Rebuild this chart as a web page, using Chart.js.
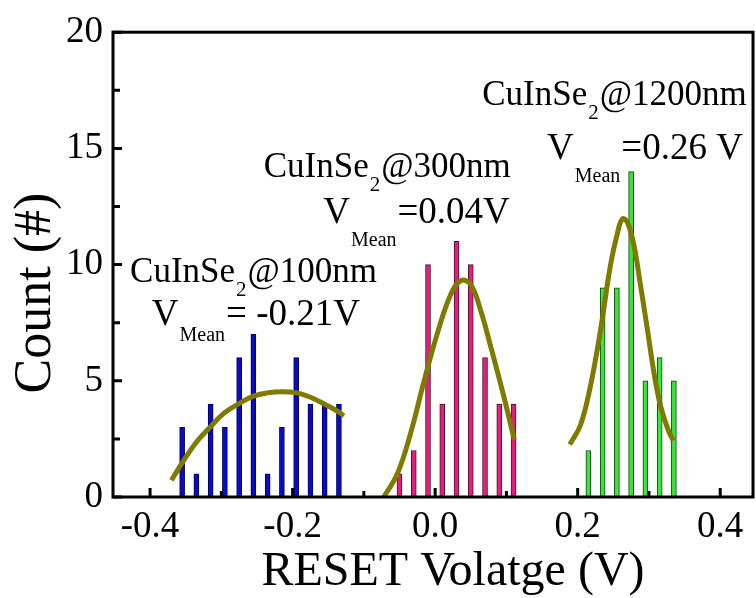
<!DOCTYPE html>
<html>
<head>
<meta charset="utf-8">
<script src="https://cdn.jsdelivr.net/npm/chart.js@4.4.0/dist/chart.umd.min.js"></script>
<style>
  html, body { margin: 0; padding: 0; background: #fff; }
  #wrap { width: 756px; height: 598px; }
</style>
</head>
<body>
<div id="wrap"><canvas id="myChart"></canvas></div>
<script>
// histogram bins (bin centre, V) and counts
const blueX = [-0.355, -0.335, -0.315, -0.295, -0.275, -0.255, -0.235, -0.215, -0.195, -0.175, -0.155, -0.135];
const blueCount = [3, 1, 4, 3, 6, 7, 1, 3, 6, 4, 4, 4];
const pinkX = [-0.05, -0.03, -0.01, 0.01, 0.03, 0.05, 0.07, 0.09, 0.11];
const pinkCount = [1, 2, 10, 4, 11, 10, 6, 4, 4];
const greenX = [0.215, 0.235, 0.255, 0.275, 0.295, 0.315, 0.335];
const greenCount = [2, 9, 9, 14, 5, 6, 5];

// gaussian fit curves
const blueFitX = [-0.370, -0.353, -0.334, -0.315, -0.297, -0.276, -0.255, -0.236, -0.215, -0.194, -0.175, -0.156, -0.137, -0.128];
const blueFitY = [0.72, 1.56, 2.40, 3.03, 3.59, 4.01, 4.34, 4.48, 4.53, 4.48, 4.29, 4.01, 3.69, 3.49];
const pinkFitX = [-0.072, -0.053, -0.035, -0.016, 0.003, 0.022, 0.036, 0.050, 0.064, 0.078, 0.096, 0.111];
const pinkFitY = [0.0, 1.0, 2.68, 4.93, 7.03, 8.72, 9.31, 9.14, 8.01, 6.47, 4.37, 2.47];
const greenFitX = [0.189, 0.204, 0.218, 0.232, 0.246, 0.256, 0.263, 0.270, 0.279, 0.288, 0.298, 0.307, 0.316, 0.326, 0.334];
const greenFitY = [2.26, 3.10, 4.79, 7.17, 9.98, 11.38, 11.97, 11.80, 10.82, 9.14, 7.17, 5.35, 3.95, 2.96, 2.43];

// axis ticks
const xTicks = [-0.4, -0.2, 0.0, 0.2, 0.4];
const xMinor = [-0.3, -0.1, 0.1, 0.3];
const yTicks = [0, 5, 10, 15, 20];
const yMinor = [2.5, 7.5, 12.5, 17.5];

const serif = "'Liberation Serif', 'Times New Roman', serif";

function pts(xs, ys) {
    return xs.map((x, i) => ({ x: x, y: ys[i] }));
}

function bars(xs, ys, fill, edge) {
    return {
        type: 'bar',
        data: pts(xs, ys),
        backgroundColor: fill,
        borderColor: edge,
        borderWidth: 1,
        barThickness: 5,
        grouped: false,
        order: 2
    };
}

function fit(xs, ys) {
    return {
        type: 'line',
        data: pts(xs, ys),
        borderColor: '#7f7a00',
        borderWidth: 5,
        pointRadius: 0,
        fill: false,
        tension: 0.4,
        order: 0
    };
}

// labels: [text, font size, baseline shift]
const notes = [
    { x: -0.428, y: 9.26, parts: [['CuInSe', 35, 0], ['2', 21, 14], ['@100nm', 35, 0]] },
    { x: -0.3975, y: 7.38, parts: [['V', 37, 0], ['Mean', 20, 16], ['= -0.21V', 37, 0]] },
    { x: -0.2405, y: 13.77, parts: [['CuInSe', 35, 0], ['2', 21, 14], ['@300nm', 35, 0]] },
    { x: -0.157, y: 11.79, parts: [['V', 37, 0], ['Mean', 20, 23], ['=0.04V', 37, 0]] },
    { x: 0.066, y: 16.85, parts: [['CuInSe', 35, 0], ['2', 21, 14], ['@1200nm', 35, 0]] },
    { x: 0.157, y: 14.54, parts: [['V', 37, 0], ['Mean', 20, 23], ['=0.26 V', 37, 0]] }
];

const decor = {
    id: 'decor',
    afterDraw(chart) {
        const ctx = chart.ctx;
        const a = chart.chartArea;
        const xs = chart.scales.x, ys = chart.scales.y;
        ctx.save();
        ctx.strokeStyle = '#000';
        ctx.lineWidth = 3;
        ctx.strokeRect(a.left, a.top, a.right - a.left, a.bottom - a.top);

        // inward ticks
        ctx.beginPath();
        xTicks.forEach(v => { const p = xs.getPixelForValue(v); ctx.moveTo(p, a.bottom); ctx.lineTo(p, a.bottom - 9); });
        xMinor.forEach(v => { const p = xs.getPixelForValue(v); ctx.moveTo(p, a.bottom); ctx.lineTo(p, a.bottom - 6); });
        yTicks.forEach(v => { const p = ys.getPixelForValue(v); ctx.moveTo(a.left, p); ctx.lineTo(a.left + 9, p); });
        yMinor.forEach(v => { const p = ys.getPixelForValue(v); ctx.moveTo(a.left, p); ctx.lineTo(a.left + 7, p); });
        ctx.stroke();

        ctx.fillStyle = '#000';
        ctx.textBaseline = 'alphabetic';
        ctx.textAlign = 'left';
        notes.forEach(n => {
            let px = xs.getPixelForValue(n.x);
            const py = ys.getPixelForValue(n.y);
            n.parts.forEach(p => {
                ctx.font = p[1] + 'px ' + serif;
                ctx.fillText(p[0], px, py + p[2]);
                px += ctx.measureText(p[0]).width + 1;
            });
        });

        // axis titles
        ctx.textAlign = 'center';
        ctx.font = '48px ' + serif;
        ctx.fillText('RESET Volatge (V)', 453, 585);
        ctx.save();
        ctx.translate(50, 293);
        ctx.rotate(-Math.PI / 2);
        ctx.font = '52px ' + serif;
        ctx.fillText('Count (#)', 0, 0);
        ctx.restore();
        ctx.restore();
    }
};

const ctx = document.getElementById('myChart');

new Chart(ctx, {
    type: 'bar',
    data: {
        datasets: [
            fit(blueFitX, blueFitY),
            fit(pinkFitX, pinkFitY),
            fit(greenFitX, greenFitY),
            bars(blueX, blueCount, '#0b0bc2', '#000060'),
            bars(pinkX, pinkCount, '#e0207a', '#50102a'),
            bars(greenX, greenCount, '#3be43b', '#104010')
        ]
    },
    options: {
        responsive: true,
        maintainAspectRatio: false,
        animation: false,
        layout: { padding: { top: 22, right: 3, left: 0, bottom: 0 } },
        plugins: { legend: { display: false }, tooltip: { enabled: false } },
        scales: {
            x: {
                type: 'linear',
                min: -0.452,
                max: 0.446,
                offset: false,
                grid: { display: false, drawTicks: false },
                border: { display: false },
                afterBuildTicks: s => { s.ticks = xTicks.map(v => ({ value: v })); },
                afterFit: s => { s.height = 101; },
                ticks: {
                    padding: 8,
                    color: '#000',
                    font: { family: serif, size: 37 },
                    callback: v => v.toFixed(1)
                }
            },
            y: {
                min: 0,
                max: 20,
                grid: { display: false, drawTicks: false },
                border: { display: false },
                afterBuildTicks: s => { s.ticks = yTicks.map(v => ({ value: v })); },
                afterFit: s => { s.width = 113; },
                ticks: {
                    padding: 10,
                    color: '#000',
                    font: { family: serif, size: 37 }
                }
            }
        }
    },
    plugins: [decor]
});
</script>
</body>
</html>
